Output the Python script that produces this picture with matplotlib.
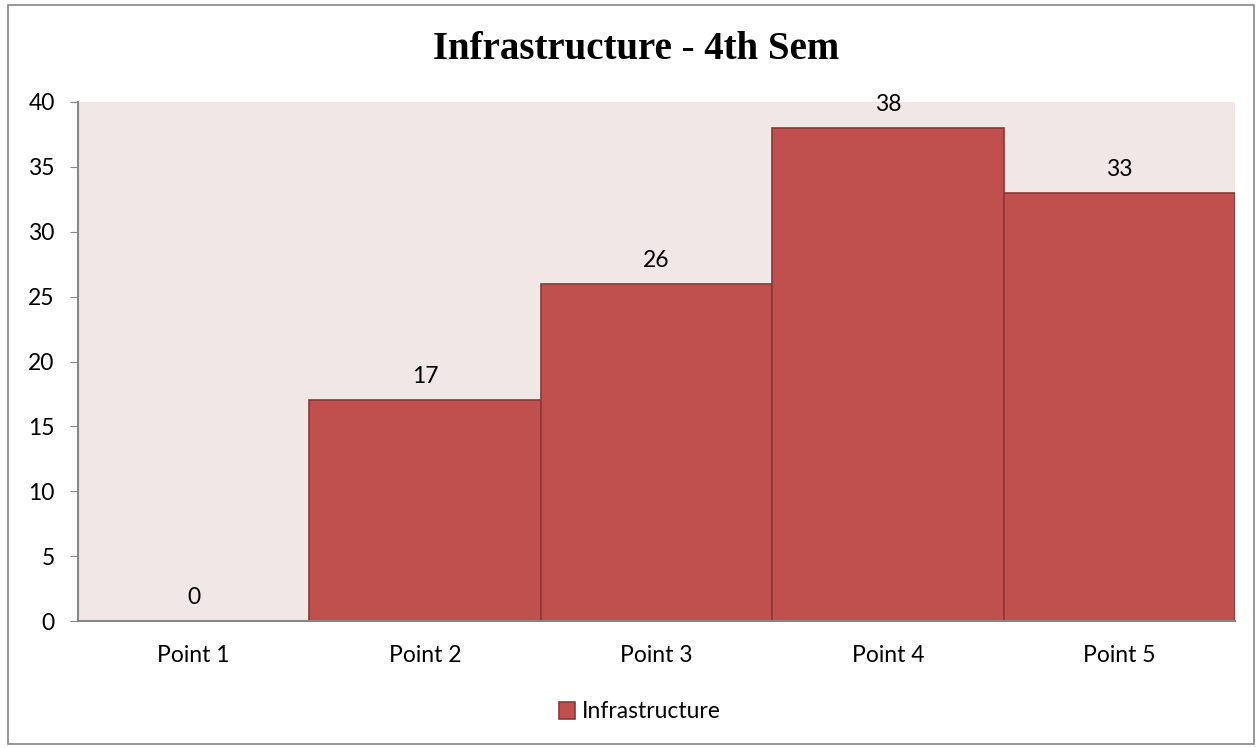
import matplotlib.pyplot as plt
from matplotlib.patches import Rectangle

categories = ["Point 1", "Point 2", "Point 3", "Point 4", "Point 5"]
values = [0, 17, 26, 38, 33]
series_name = "Infrastructure"

plt.rcParams['font.family'] = ['Lato', 'DejaVu Sans']

fig = plt.figure(figsize=(12.6, 7.48), dpi=100)
ax = fig.add_axes([78 / 1260, 1 - 621 / 748, (1235 - 78) / 1260, (621 - 102) / 748])
ax.set_facecolor("#F2E7E7")

x = list(range(len(categories)))
bars = ax.bar(x, values, width=1.0, color="#C0504D", edgecolor="#8C3836",
              linewidth=1.2, label=series_name, zorder=2)

for xi, v in zip(x, values):
    ax.text(xi, v + 1.0, str(v), ha="center", va="bottom", fontsize=16.5, color="black")

ax.set_xlim(-0.5, 4.5)
ax.set_ylim(0, 40)
ax.set_yticks(range(0, 41, 5))
ax.set_xticks(x)
ax.set_xticklabels(categories)
ax.tick_params(axis="y", direction="out", length=5.8, color="#868686", labelsize=16.5, pad=11)
ax.tick_params(axis="x", length=0, labelsize=16.5, pad=17)
for s in ["top", "right"]:
    ax.spines[s].set_visible(False)
for s in ["left", "bottom"]:
    ax.spines[s].set_color("#868686")
    ax.spines[s].set_linewidth(1.5)

fig.text(636 / 1260, 1 - 59 / 748, "Infrastructure - 4th Sem", ha="center", va="baseline",
         fontsize=28, fontweight="bold", family=["Liberation Serif", "DejaVu Serif"])

leg = fig.legend(handles=[bars], labels=[series_name], loc="center",
                 bbox_to_anchor=(640 / 1260, 1 - 712 / 748), frameon=False,
                 fontsize=16.5, handlelength=0.7, handleheight=0.7, handletextpad=0.3)

fig.patches.append(Rectangle((8 / 1260, 4 / 748), 1246 / 1260, 739 / 748,
                             transform=fig.transFigure, fill=False,
                             edgecolor="#868686", linewidth=1.2))

fig.savefig("out.png", dpi=100)
